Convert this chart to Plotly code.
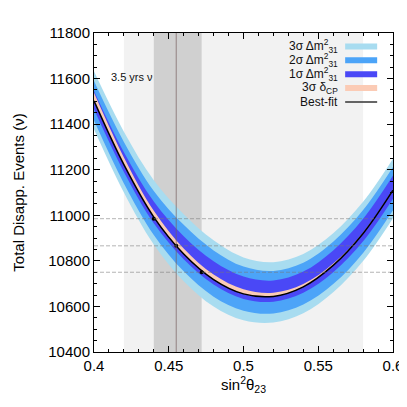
import plotly.graph_objects as go

# sin^2(theta23) grid
s2t23 = [0.40, 0.42, 0.44, 0.46, 0.48, 0.50, 0.52, 0.54, 0.56, 0.58, 0.60]

# best-fit total disappearance events
best_fit = [11502, 11222, 10992, 10830, 10718, 10655, 10644, 10686, 10780, 10920, 11110]

# delta m^2_31 bands (upper / lower edges)
up_1s = [11546, 11277, 11060, 10908, 10798, 10731, 10714, 10753, 10846, 10985, 11175]
lo_1s = [11465, 11190, 10965, 10807, 10696, 10633, 10621, 10660, 10750, 10886, 11073]
up_2s = [11589, 11322, 11107, 10958, 10846, 10775, 10756, 10792, 10884, 11023, 11212]
lo_2s = [11416, 11140, 10914, 10754, 10643, 10581, 10569, 10608, 10698, 10835, 11022]
up_3s = [11632, 11367, 11154, 11005, 10890, 10815, 10794, 10830, 10921, 11059, 11248]
lo_3s = [11378, 11100, 10872, 10711, 10600, 10539, 10529, 10570, 10662, 10799, 10987]

# 3 sigma delta_CP band (upper edge, lower edge is best fit)
up_dcp = [11538, 11254, 11020, 10854, 10740, 10675, 10660, 10698, 10788, 10925, 11113]

# marked points and shaded ranges
pt_x = [0.44, 0.455, 0.472]
pt_y = [10985, 10866, 10750]
range_3s = [0.42, 0.58]
range_1s = [0.44, 0.472]
central = 0.455

c3 = "#a8dcf0"
c2 = "#4ca4f8"
c1 = "#4a48f6"
cp = "#fbcbb5"

fig = go.Figure()


def band(lo, hi, color):
    fig.add_trace(go.Scatter(x=s2t23, y=lo, mode="lines", line=dict(width=0, shape="spline"),
                             showlegend=False, hoverinfo="skip"))
    fig.add_trace(go.Scatter(x=s2t23, y=hi, mode="lines", line=dict(width=0, shape="spline"),
                             fill="tonexty", fillcolor=color, showlegend=False, hoverinfo="skip"))


band(lo_3s, up_3s, c3)
band(lo_2s, up_2s, c2)
band(lo_1s, up_1s, c1)
band(best_fit, up_dcp, cp)

fig.add_trace(go.Scatter(x=s2t23, y=best_fit, mode="lines",
                         line=dict(color="black", width=1.5, shape="spline"), showlegend=False))
fig.add_trace(go.Scatter(x=pt_x, y=pt_y, mode="markers",
                         marker=dict(color="black", size=4), showlegend=False))

shapes = [
    dict(type="rect", xref="x", yref="paper", x0=range_3s[0], x1=range_3s[1], y0=0, y1=1,
         fillcolor="#f2f2f2", line_width=0, layer="below"),
    dict(type="rect", xref="x", yref="paper", x0=range_1s[0], x1=range_1s[1], y0=0, y1=1,
         fillcolor="#d0d0d0", line_width=0, layer="below"),
    dict(type="line", xref="x", yref="paper", x0=central, x1=central, y0=0, y1=1,
         line=dict(color="rgba(120,95,95,0.7)", width=1), layer="above"),
]
for yv in pt_y:
    shapes.append(dict(type="line", xref="paper", yref="y", x0=0, x1=1, y0=yv, y1=yv,
                       line=dict(color="rgba(120,120,120,0.55)", width=1, dash="4px,2px"),
                       layer="above"))

# legend drawn by hand: text on the left, swatch on the right
legend_items = [
    ("3σ Δm<sup>2</sup><sub>31</sub>", c3, 6),
    ("2σ Δm<sup>2</sup><sub>31</sub>", c2, 6),
    ("1σ Δm<sup>2</sup><sub>31</sub>", c1, 6),
    ("3σ δ<sub>CP</sub>", cp, 6),
    ("Best-fit", "#333333", 1.5),
]
annotations = []
ly = 0.958
for label, col, w in legend_items:
    annotations.append(dict(x=0.823, y=ly, xref="paper", yref="paper", text=label,
                            showarrow=False, xanchor="right", yanchor="middle",
                            font=dict(size=12, color="#111")))
    shapes.append(dict(type="line", xref="paper", yref="paper", x0=0.84, x1=0.947, y0=ly, y1=ly,
                       line=dict(color=col, width=w), layer="above"))
    ly -= 0.0435

annotations.append(dict(x=0.05, y=0.862, xref="paper", yref="paper", text="3.5 yrs ν",
                        showarrow=False, xanchor="left", yanchor="middle",
                        font=dict(size=11, color="#111")))

axis_common = dict(showline=True, linecolor="black", linewidth=1, mirror="allticks",
                   ticks="inside", ticklen=6, tickcolor="black", showgrid=False, zeroline=False,
                   automargin=False, tickfont=dict(size=15, color="black"))

fig.update_xaxes(range=[0.4, 0.6], dtick=0.05, tickformat="",
                 minor=dict(dtick=0.01, ticks="inside", ticklen=3, tickcolor="black"),
                 title=dict(text="sin<sup>2</sup>θ<sub>23</sub>", font=dict(size=15, color="black"),
                            standoff=4),
                 **axis_common)
fig.update_yaxes(range=[10400, 11800], dtick=200, tickformat="d",
                 minor=dict(dtick=50, ticks="inside", ticklen=3, tickcolor="black"),
                 title=dict(text="Total Disapp. Events (ν)", font=dict(size=15, color="black"),
                            standoff=20),
                 **axis_common)

# page body adds an 8px offset, so the figure is 399 px and margins are shifted by 8
fig.update_layout(width=399, height=399, margin=dict(l=86, r=14, t=25, b=55),
                  plot_bgcolor="white", paper_bgcolor="white",
                  font=dict(family="Liberation Sans, Arial, sans-serif"),
                  shapes=shapes, annotations=annotations, showlegend=False)

fig.write_html("out.html")
